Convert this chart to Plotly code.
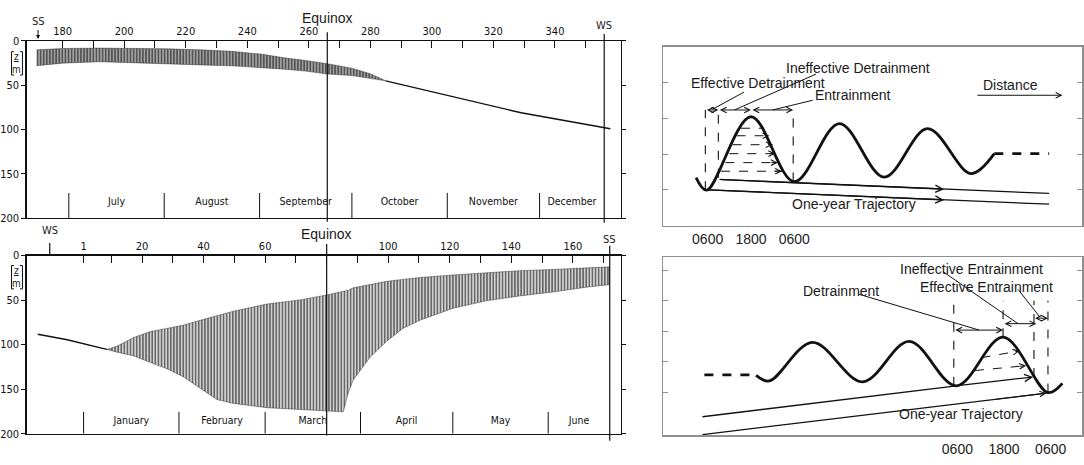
import plotly.graph_objects as go

# ================= DATA =================
# --- top-left: summer solstice -> winter solstice (day of year, depth in m)
tl_band_day   = [171.5, 180, 192, 205, 214, 225, 235, 245, 252, 259, 266, 274, 280, 285]
tl_band_upper = [10.0, 8.5, 8.0, 8.0, 8.8, 10.0, 11.7, 15.0, 19.0, 22.0, 25.6, 30.7, 37.0, 45.0]
tl_band_lower = [28.0, 25.0, 23.4, 24.5, 25.6, 27.0, 28.0, 30.0, 31.8, 34.0, 37.3, 39.0, 42.0, 45.0]
tl_line_day   = [285, 307, 317, 329, 358]
tl_line_depth = [45, 63, 72, 81, 99]
tl_month_names = ["July", "August", "September", "October", "November", "December"]
tl_month_start = [182, 213, 244, 274, 305, 335]
tl_ss, tl_ws, tl_equinox = 172, 356, 266
tl_tick_days   = [180, 190, 200, 210, 220, 230, 240, 250, 260, 270, 280, 290, 300, 310, 320, 330, 340, 350]
tl_tick_labels = ["180", "", "200", "", "220", "", "240", "", "260", "", "280", "", "300", "", "320", "", "340", ""]

# --- bottom-left: winter solstice -> summer solstice
bl_line_day   = [-13.9, -4.3, 6.5, 8.6]
bl_line_depth = [88.3, 94.5, 103.6, 105.4]
bl_band_day   = [8.6, 11.9, 17.3, 22.7, 28.1, 33.5, 38.9, 44.3, 49.7, 60.5, 71.3, 80.0, 85.4,
                 87.0, 88.6, 94.0, 99.5, 104.8, 110.3, 121.1, 131.9, 142.7, 153.5, 164.3, 171.9]
bl_band_upper = [105.4, 101.7, 92.0, 85.4, 81.8, 78.1, 72.7, 67.2, 62.5, 54.5, 49.8, 44.3, 40.0,
                 39.0, 36.3, 32.5, 29.0, 26.8, 24.7, 21.8, 19.2, 17.0, 15.6, 13.8, 12.7]
bl_band_lower = [105.4, 108.5, 112.7, 120.0, 127.2, 136.3, 149.0, 161.7, 166.0, 170.8, 173.4, 174.5, 175.5,
                 154.4, 140.0, 114.5, 96.3, 81.8, 72.7, 59.2, 50.8, 45.4, 41.0, 35.6, 32.7]
bl_month_names = ["January", "February", "March", "April", "May", "June"]
bl_month_start = [1, 32, 60, 91, 121, 152]
bl_ws, bl_ss, bl_equinox = -10, 172, 80
bl_tick_days   = [1, 10, 20, 30, 40, 50, 60, 70, 80, 90, 100, 110, 120, 130, 140, 150, 160, 170]
bl_tick_labels = ["1", "", "20", "", "40", "", "60", "", "", "", "100", "", "120", "", "140", "", "160", ""]
depth_ticks = [0, 50, 100, 150, 200]

# --- top-right schematic (x: hours, z: relative height)
tr_wave_hr = [2.79, 5.72, 18.0, 30.0, 42.5, 54.9, 66.9, 78.9, 85.4]
tr_wave_z  = [1.34, 0.99, 3.04, 1.23, 2.85, 1.355, 2.71, 1.455, 2.01]
tr_tail_hr = [85.4, 100.6]
tr_tail_z  = [2.01, 2.01]
tr_vline_hr = [5.36, 8.96, 29.7]
tr_vline_lo = [0.99, 1.34, 1.23]
tr_vline_hi = 3.23
tr_span_hr = [5.36, 8.96, 18.0, 29.7]
tr_span_z  = 3.23
tr_hatch_z  = [2.72, 2.51, 2.26, 2.01, 1.76, 1.52]
tr_hatch_x0 = [15.2, 14.0, 12.9, 12.0, 10.9, 9.7]
tr_hatch_x1 = [21.7, 23.1, 24.0, 24.7, 25.4, 26.6]
tr_traj_x0 = [9.3, 6.0]
tr_traj_z0 = [1.29, 1.0]
tr_traj_x1 = [100.6, 100.6]
tr_traj_z1 = [0.90, 0.60]
tr_traj_ax = [71.5, 71.5]
tr_traj_az = [1.02, 0.72]
tr_lead_x0 = [16.1, 36.0, 35.1]
tr_lead_z0 = [3.73, 4.23, 3.50]
tr_lead_x1 = [7.38, 13.4, 24.0]
tr_lead_z1 = [3.25, 3.23, 3.23]
tr_labels   = ["Ineffective Detrainment", "Effective Detrainment", "Entrainment", "Distance", "One-year Trajectory"]
tr_label_x  = [47.7, 20.0, 46.3, 90.0, 46.6]
tr_label_z  = [4.41, 3.97, 3.64, 3.93, 0.60]
tr_dist_x = [80.3, 104.3]
tr_dist_z = 3.64
tr_ticks_hr = [6, 18, 30]
tr_tick_text = ["0600", "1800", "0600"]

# --- bottom-right schematic
br_wave_hr = [-45.8, -42.4, -31.3, -18.4, -6.4, 5.74, 17.75, 29.3, 33.0]
br_wave_z  = [1.56, 1.38, 2.64, 1.35, 2.67, 1.22, 2.81, 1.0, 1.30]
br_tail_hr = [-59.1, -46.7]
br_tail_z  = [1.58, 1.58]
br_vline_hr = [5.07, 17.75, 25.7, 29.3]
br_vline_lo = [1.22, 2.81, 1.51, 1.0]
br_vline_hi = 4.0
br_span_x0 = [5.07, 17.75, 25.6]
br_span_x1 = [17.75, 26.3, 29.3]
br_span_z  = [3.04, 3.25, 3.43]
br_hatch_x0 = [12.2, 10.5]
br_hatch_z0 = [2.14, 1.72]
br_hatch_x1 = [22.0, 23.7]
br_hatch_z1 = [2.36, 1.88]
br_trajA_x = [-59.6, 5.74]
br_trajA_z = [0.21, 1.22]
br_trajA_tip = (25.5, 1.51)
br_trajB_x = [-59.6, 28.9]
br_trajB_z = [-0.37, 0.98]
br_lead_x0 = [-19.3, 2.3, 21.6]
br_lead_z0 = [4.21, 4.95, 4.37]
br_lead_x1 = [11.6, 21.6, 27.2]
br_lead_z1 = [3.04, 3.25, 3.47]
br_labels  = ["Ineffective Entrainment", "Effective Entrainment", "Detrainment", "One-year Trajectory"]
br_label_x = [9.6, 13.45, -24.0, 7.0]
br_label_z = [5.02, 4.44, 4.31, 0.29]
br_ticks_hr = [6, 18, 30]
br_tick_text = ["0600", "1800", "0600"]

# ================= STYLE =================
W, H = 1084, 465
INK = "#111111"
GRAY = "#8f8f8f"
NARROW = "Liberation Sans Narrow, Arial Narrow, DejaVu Sans Condensed, sans-serif"
SANS = "Liberation Sans, Arial, sans-serif"

fig = go.Figure()
ann = []
shapes = []

def band(days, up, lo, xa, ya, bg, solid):
    fig.add_trace(go.Scatter(
        x=days + days[::-1], y=up + lo[::-1], mode="lines", fill="toself",
        fillcolor=bg,
        fillpattern=dict(shape="|", size=3.1, solidity=solid, fgcolor="#000000", bgcolor=bg),
        line=dict(width=0.6, color="rgba(30,30,30,0.7)"), xaxis=xa, yaxis=ya, hoverinfo="skip"))

def months(starts, end, names, band_top, label_y, xa, ya):
    sx, sy = [], []
    for b in starts:
        sx += [b, b, None]
        sy += [band_top, 200, None]
    fig.add_trace(go.Scatter(x=sx, y=sy, mode="lines", line=dict(color=INK, width=1),
                             xaxis=xa, yaxis=ya, hoverinfo="skip"))
    bounds = starts + [end]
    mids = [(bounds[i] + bounds[i + 1]) / 2 for i in range(len(starts))]
    fig.add_trace(go.Scatter(x=mids, y=[label_y] * len(mids), mode="text", text=names,
                             textfont=dict(family=NARROW, size=10.5, color="#111"),
                             xaxis=xa, yaxis=ya, hoverinfo="skip"))

# ---- top-left
band(tl_band_day, tl_band_upper, tl_band_lower, "x", "y", "#a8a8a8", 0.55)
fig.add_trace(go.Scatter(x=tl_line_day, y=tl_line_depth, mode="lines",
                         line=dict(color=INK, width=1.4), xaxis="x", yaxis="y", hoverinfo="skip"))
months(tl_month_start, tl_ws, tl_month_names, 171.5, 182, "x", "y")

# ---- bottom-left
band(bl_band_day, bl_band_upper, bl_band_lower, "x2", "y2", "#d0d0d0", 0.5)
fig.add_trace(go.Scatter(x=bl_line_day, y=bl_line_depth, mode="lines",
                         line=dict(color=INK, width=1.4), xaxis="x2", yaxis="y2", hoverinfo="skip"))
months(bl_month_start, bl_ss, bl_month_names, 175.5, 186, "x2", "y2")

# vertical markers (solstices, equinox)
def vline(xref, yref, x, y0, y1, w=1.2):
    shapes.append(dict(type="line", xref=xref, yref=yref + " domain", x0=x, x1=x, y0=y0, y1=y1,
                       line=dict(color=INK, width=w)))

vline("x", "y", tl_ws, -0.025, 1.04)
vline("x", "y", tl_equinox, -0.02, 1.05)
vline("x2", "y2", bl_equinox, -0.01, 1.065)
vline("x2", "y2", bl_ss, -0.04, 1.055)
vline("x2", "y2", bl_ws, 1.0, 1.07)

def txt(xref, yref, x, y, s, size, family=NARROW):
    ann.append(dict(xref=xref, yref=yref, x=x, y=y, text=s, showarrow=False,
                    xanchor="center", yanchor="middle", borderpad=0,
                    font=dict(family=family, size=size, color="#1a1a1a")))

txt("x", "y domain", tl_equinox, 1.13, "Equinox", 14, SANS)
txt("x", "y domain", tl_ws, 1.085, "WS", 11)
ann.append(dict(xref="x", yref="y", x=tl_ss, y=0, text="SS", showarrow=True, ax=0, ay=-19,
                arrowhead=2, arrowsize=0.8, arrowwidth=1, arrowcolor=INK, standoff=2,
                font=dict(family=NARROW, size=11, color="#1a1a1a")))
txt("x2", "y2 domain", bl_equinox, 1.118, "Equinox", 14, SANS)
txt("x2", "y2 domain", bl_ws, 1.14, "WS", 11)
txt("x2", "y2 domain", bl_ss, 1.091, "SS", 11)

# unit label [z/m] with brackets
for yc in (59, 279):
    txt("paper", "paper", 17 / W, 1 - yc / H, "<u>z</u><br>m", 10)
    for xe, d in ((11.5, 2.5), (22.5, -2.5)):
        x0, x1 = xe / W, (xe + d) / W
        yt, yb = 1 - (yc - 12) / H, 1 - (yc + 12) / H
        shapes.append(dict(type="path", xref="paper", yref="paper",
                           path=f"M{x1},{yt} L{x0},{yt} L{x0},{yb} L{x1},{yb}",
                           line=dict(color=INK, width=1)))

# ---- schematic helpers
def line(xs, zs, xa, ya, width=1.2, dash=None, shape="linear"):
    fig.add_trace(go.Scatter(x=xs, y=zs, mode="lines",
                             line=dict(color=INK, width=width, dash=dash, shape=shape, smoothing=1.0),
                             xaxis=xa, yaxis=ya, hoverinfo="skip"))

def arrow(xa, ya, x0, z0, x1, z1, both=False, w=1.0):
    ann.append(dict(xref=xa, yref=ya, axref=xa, ayref=ya, x=x1, y=z1, ax=x0, ay=z0, text="",
                    showarrow=True, arrowhead=5, startarrowhead=5, arrowsize=1.1, startarrowsize=1.1,
                    arrowwidth=w, arrowcolor=INK, arrowside="end+start" if both else "end",
                    standoff=0, startstandoff=0))

def head(xa, ya, x0, z0, x1, z1):
    f = 0.15
    arrow(xa, ya, x1 - f * (x1 - x0), z1 - f * (z1 - z0), x1, z1)

# ---- top-right
line(tr_wave_hr, tr_wave_z, "x3", "y3", width=2.8, shape="spline")
line(tr_tail_hr, tr_tail_z, "x3", "y3", width=2.8, dash="dash")
for xv, lo in zip(tr_vline_hr, tr_vline_lo):
    line([xv, xv], [lo, tr_vline_hi], "x3", "y3", width=1.1, dash="dash")
for a, b in zip(tr_span_hr[:-1], tr_span_hr[1:]):
    arrow("x3", "y3", a, tr_span_z, b, tr_span_z, both=True)
for z, a, b in zip(tr_hatch_z, tr_hatch_x0, tr_hatch_x1):
    line([a, b], [z, z], "x3", "y3", width=1.0, dash="dash")
    head("x3", "y3", a, z, b, z)
for x0, z0, x1, z1, axx, azz in zip(tr_traj_x0, tr_traj_z0, tr_traj_x1, tr_traj_z1, tr_traj_ax, tr_traj_az):
    line([x0, x1], [z0, z1], "x3", "y3", width=1.3)
    arrow("x3", "y3", x0, z0, axx, azz, w=1.3)
for x0, z0, x1, z1 in zip(tr_lead_x0, tr_lead_z0, tr_lead_x1, tr_lead_z1):
    line([x0, x1], [z0, z1], "x3", "y3", width=1.0)
arrow("x3", "y3", tr_dist_x[0], tr_dist_z, tr_dist_x[1], tr_dist_z)
for s, x, z in zip(tr_labels, tr_label_x, tr_label_z):
    txt("x3", "y3", x, z, s, 14, SANS)

# ---- bottom-right
line(br_wave_hr, br_wave_z, "x4", "y4", width=2.8, shape="spline")
line(br_tail_hr, br_tail_z, "x4", "y4", width=2.8, dash="dash")
for xv, lo in zip(br_vline_hr, br_vline_lo):
    line([xv, xv], [lo, br_vline_hi], "x4", "y4", width=1.1, dash="dash")
for a, b, z in zip(br_span_x0, br_span_x1, br_span_z):
    arrow("x4", "y4", a, z, b, z, both=True)
for a, za, b, zb in zip(br_hatch_x0, br_hatch_z0, br_hatch_x1, br_hatch_z1):
    line([a, b], [za, zb], "x4", "y4", width=1.0, dash="dash")
    head("x4", "y4", a, za, b, zb)
line(br_trajA_x, br_trajA_z, "x4", "y4", width=1.3)
arrow("x4", "y4", br_trajA_x[1], br_trajA_z[1], br_trajA_tip[0], br_trajA_tip[1], w=1.3)
line(br_trajB_x, br_trajB_z, "x4", "y4", width=1.3)
head("x4", "y4", br_trajB_x[0], br_trajB_z[0], br_trajB_x[1], br_trajB_z[1])
for x0, z0, x1, z1 in zip(br_lead_x0, br_lead_z0, br_lead_x1, br_lead_z1):
    line([x0, x1], [z0, z1], "x4", "y4", width=1.0)
for s, x, z in zip(br_labels, br_label_x, br_label_z):
    txt("x4", "y4", x, z, s, 14, SANS)

# ================= AXES =================
LX = [0.02463, 0.57352]
RX = [0.61255, 0.99908]
left_x = dict(side="top", ticks="inside", ticklen=7, tickwidth=1, tickcolor=INK,
              showline=True, linecolor=INK, linewidth=1.3, mirror=True, showgrid=False, zeroline=False,
              tickfont=dict(family=NARROW, size=11, color="#111"))
left_y = dict(range=[200, 0], tickvals=depth_ticks, ticks="outside", ticklen=4, tickcolor=INK,
              showline=True, linecolor=INK, linewidth=1.3, mirror="ticks", showgrid=False, zeroline=False,
              tickfont=dict(family=NARROW, size=11, color="#111"))
right_x = dict(ticks="", showline=True, linecolor=GRAY, linewidth=1.5, mirror=True, showgrid=False,
               zeroline=False, tickfont=dict(family=SANS, size=14, color="#222"))
right_top = dict(side="top", ticks="inside", ticklen=6, tickcolor=GRAY, showticklabels=False,
                 showline=False, showgrid=False, zeroline=False)
right_y = dict(ticks="inside", ticklen=5, tickcolor=GRAY, showticklabels=False, showline=True,
               linecolor=GRAY, linewidth=1.5, mirror="ticks", showgrid=False, zeroline=False)

fig.update_layout(
    width=W, height=H, margin=dict(l=0, r=0, t=0, b=0),
    paper_bgcolor="white", plot_bgcolor="white", showlegend=False,
    xaxis=dict(left_x, domain=LX, range=[168.3, 361.5], anchor="y",
               tickvals=tl_tick_days, ticktext=tl_tick_labels),
    yaxis=dict(left_y, domain=[0.53054, 0.92258], anchor="x"),
    xaxis2=dict(left_x, domain=LX, range=[-17.5, 175.7], anchor="y2",
                tickvals=bl_tick_days, ticktext=bl_tick_labels),
    yaxis2=dict(left_y, domain=[0.05376, 0.44796], anchor="x2"),
    xaxis3=dict(right_x, domain=RX, range=[-6.26, 109.7], anchor="y3",
                tickvals=tr_ticks_hr, ticktext=tr_tick_text),
    yaxis3=dict(right_y, domain=[0.51398, 0.91032], range=[0, 5], anchor="x3", tickvals=[1, 2, 3, 4]),
    xaxis4=dict(right_x, domain=RX, range=[-69.65, 38.06], anchor="y4",
                tickvals=br_ticks_hr, ticktext=br_tick_text),
    yaxis4=dict(right_y, domain=[0.05011, 0.44452], range=[-0.397, 5.425], anchor="x4",
                tickvals=[1, 2, 3, 4, 5]),
    xaxis7=dict(right_top, overlaying="x3", anchor="y3", range=[-6.26, 109.7], tickvals=tr_ticks_hr),
    xaxis8=dict(right_top, overlaying="x4", anchor="y4", range=[-69.65, 38.06], tickvals=br_ticks_hr),
    annotations=ann, shapes=shapes,
)

fig.write_html("out.html", config={"displayModeBar": False, "staticPlot": True},
               post_script="document.body.style.margin='0';document.body.style.overflow='hidden';")
